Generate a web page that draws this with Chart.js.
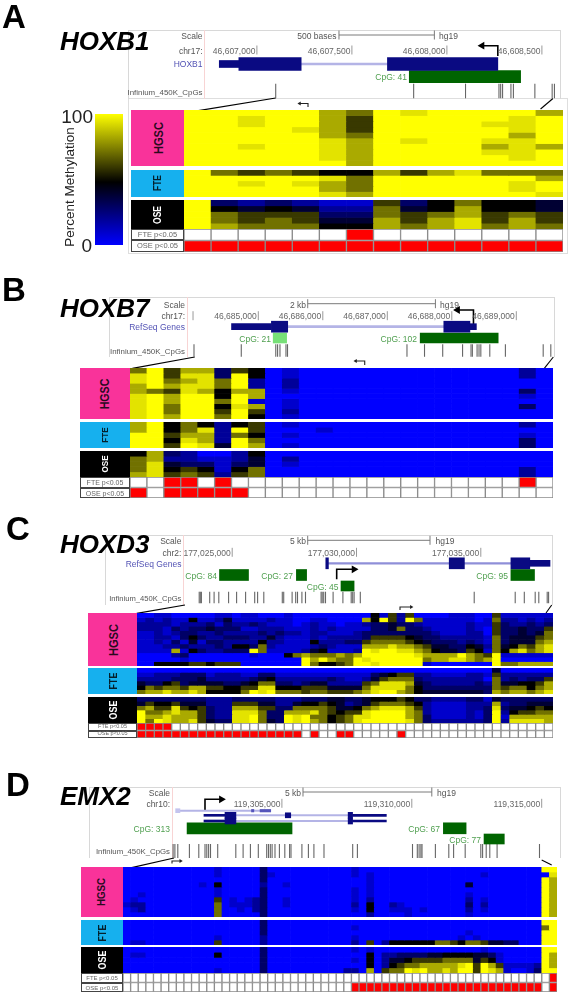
<!DOCTYPE html>
<html lang="en">
<head>
    <meta charset="UTF-8">
    <title>Promoter methylation of HOXB1, HOXB7, HOXD3, EMX2</title>
    <script src="https://cdn.jsdelivr.net/npm/chart.js@4"></script>
    <style>
        html, body { margin: 0; padding: 0; background: #fff; }
        #page { position: relative; width: 569px; height: 994px; overflow: hidden; filter: blur(0.6px); font-family: "Liberation Sans", Arial, sans-serif; }
        #page canvas { position: absolute; }
        .txt { position: absolute; white-space: nowrap; line-height: 1; }
        .box { position: absolute; box-sizing: border-box; }
    </style>
</head>
<body>
    <div id="page"></div>

    <script>
        // Heatmap cells: one character per CpG, 0-9 and a = tenths of percent methylation
        const hgscA = [
            'aaaaa87a9aaaa8', 'aa9aa86aaaaa9a', 'aa9aa86aaaa99a', 'aaaa986aaaaa9a', 'aaaaa87aaaaa8a',
            'aaaaa98a9aa99a', 'aa9aa98aaaa898', 'aaaaa98aaaa99a', 'aaaaa98aaaaa9a', 'aaaaaa8aaaaaaa'
        ];
        const fteA = ['a7676558689777', 'aaaaa97aaaaaa8', 'aa9a987aaaaa9a', 'aaaaa87aaaaa9a', 'aaaaa98aaaaaa9'];
        const oseA = ['a3232116357554', 'a5454227458554', 'a7666337678676', 'a7676448689686', 'a8777558789787'];
        const sigA = ['00000010000000', '11111111111111'];

        const hgscB = [
            '7a688365 01000000 000000020', '9a6993a5 01000000 000000020', '9a7897a2 02000000 000000000',
            '8a8997a2 02000000 000000000', '87698588 01000000 000000030', '9a8aa5a8 00000000 000000010',
            '9a8aa7a1 01000000 000000000', '9a7aa598 01000000 000000030', '9a7aa6a6 02000000 000000000',
            '9a8aa7a5 01000000 000000000'
        ];
        const fteB = [
            '8a575256 01000000 000000020', '8a5792a6 00010000 000000000', 'aa688275 01000000 000000010',
            'aa5982a7 00000000 000000030', 'aa6a94a8 01000000 000000030'
        ];
        const oseB = [
            '58320025 00000000 000000000', '78221124 02000000 000000000', '79433134 01000000 000000000',
            '79565157 00000000 000000020', '89676267 00000000 000000020'
        ];
        const sigB = ['00110100 00000000 000000010', '10111110 00000000 000000000'];

        const hgscC = [
            '00110000 01101100 01000000 00051626 00001110 06111111',
            '12121151 12411112 11001100 0085a62a 71111110 17221212',
            '22221222 31322321 11012110 11233433 21111121 16322323',
            '22213233 43331122 21112121 11133473 32111121 06334336',
            '11212332 23222232 32212211 12333333 33211122 06334347',
            '11221353 22333224 21112122 22366665 43322222 17344467',
            '11213141 33222252 21115222 33677776 54333232 17344478',
            '11122322 23255372 11112321 11888988 76443354 27457689',
            '11118153 22333a71 11124511 12a9aa99 87544365 17589789',
            '00002300 00000100 05787778 78aaaaaa 98888a87 6a111111',
            '00000100 00000000 000a8a87 7a9aaaaa a7889987 8a000000',
            '00555566 56660000 000a7556 7aa9aaaa a1000000 0a778888'
        ];
        const fteC = [
            '00000000 00000000 00000000 00000000 00000000 04000000',
            '11222333 12221133 11111111 11134566 22111122 16222222',
            '22223334 22222345 22222232 11246777 32222222 07232336',
            '43356344 44334577 33234422 22679998 43222223 27445568',
            '57677688 66556699 55566644 44799997 53333333 37677578',
            '78898898 55557a9a 77767766 6789aa87 54444444 38788789'
        ];
        const oseC = [
            '33333333 22233333 22233344 33455565 33222233 14333333',
            '46556444 22266644 22455654 23467776 52111122 28233444',
            '78669656 32288866 33777764 45789998 62111122 39344565',
            'a7789886 32299973 38889765 669aaaa8 72111121 3a256677',
            'a8898886 32299a73 3a9a7756 799aaaa8 73111121 3a188888',
            'a7a98896 43399a74 3a9a8756 79aaaaa9 73222222 3a299998'
        ];
        const sigC = [
            '11110000 00000000 00000000 00000000 00000000 00000000',
            '11111111 11111111 11101001 10000010 00000000 00000000'
        ];

        const hgscD = [
            '00000000 00001000 00300000 00000010 00000000 00000000 0000000a a',
            '00000000 00001000 00310000 00000010 10000000 00000001 00000000 9',
            '00000000 00000000 00300000 00000000 10000000 00000000 0000000a 8',
            '00000000 00105000 00200100 00000000 10000000 00000400 0000000a 8',
            '00000000 00001000 00300000 00000010 10000000 00000000 0000000a 8',
            '00100000 00001000 00300000 00000010 10000000 00000100 0000000a 8',
            '01000000 00006010 12300100 00000010 20000000 00000201 0000000a 8',
            '12200000 00007011 12300100 00000020 50021000 00000302 0000000a 8',
            '01200000 00007001 02300000 00000010 50011101 00000201 0000000a 8',
            '00000000 00007000 00300000 00000000 20000100 00000100 0000000a 8'
        ];
        const fteD = [
            '00000000 00000000 00300000 00000000 00000000 00000000 0000000a a',
            '00000000 00000000 00300000 00000010 00000000 00000000 00000007 a',
            '00000000 00000000 00300000 00000000 00000000 00000100 0000000a a',
            '00000000 00001000 00200000 00000010 00000000 00001010 0000000a a',
            '01100000 00006000 00200000 00000020 60255555 57765776 4433000a a'
        ];
        const oseD = [
            '00000000 00000000 00300000 00000010 10000000 00000001 0000000a a',
            '01100000 00005000 00300000 00000000 50223333 44555544 3100000a 8',
            '00000000 00000000 00300000 00000010 50244566 66777746 5100000a 8',
            '00000000 00000000 00300000 00000000 50256778 88889a6a 8611112a 8',
            '00000000 00001000 00300000 00000220 80677a9a 8898aa6a 9810013a a'
        ];
        const sigD = [
            '00000000 00000000 00000000 00000000 00000000 00000000 00000000 1',
            '00000000 00000000 00000000 00000011 11111111 11111111 11111110 1'
        ];

        // Browser tracks: base pairs counted from the first labelled coordinate of each panel
        const tickValuesA = [0, 500, 1000, 1500];
        const tickLabelsA = ['46,607,000', '46,607,500', '46,608,000', '46,608,500'];
        const exonThinA = [[-198, -95]];
        const exonThickA = [[-95, 233], [687, 1268]];
        const intronA = [[233, 687]];
        const cpgIslandsA = [[802, 1388]];
        const probesA = [99, 825, 1098, 1274, 1283, 1293, 1337, 1350, 1463, 1554, 1566];
        const rulerA = [432, 934];

        const tickValuesB = [0, 1000, 2000, 3000, 4000];
        const tickLabelsB = ['46,685,000', '46,686,000', '46,687,000', '46,688,000', '46,689,000'];
        const exonThinB = [[-415, 203], [3281, 3381]];
        const exonThickB = [[203, 456], [2876, 3281]];
        const intronB = [[456, 2876]];
        const cpgIslandsB = [[2510, 3719]];
        const cpgLightB = [[231, 439]];
        const probesB = [-997, -264, 271, 299, 336, 429, 453, 2305, 2577, 2859, 3167, 3298, 3319, 3392, 3422, 3450, 3589, 3831, 4417, 4535];
        const rulerB = [766, 2746];

        const tickValuesC = [0, 5000, 10000];
        const tickLabelsC = ['177,025,000', '177,030,000', '177,035,000'];
        const exonThinC = [[11971, 12784]];
        const exonThickC = [[3765, 3870], [8729, 9340], [11211, 11971]];
        const intronC = [[3870, 11211]];
        const cpgRow1C = [[-511, 656], [2582, 2993], [11211, 12160]];
        const cpgRow2C = [[4376, 4903]];
        const probesC = [-1327, -1283, -1239, -905, -728, -539, -145, 177, 539, 905, 1022, 1271, 2015, 2072, 2410, 2554, 2627, 2804, 2948, 3576, 3620, 3681, 3753, 4059, 4453, 4787, 4847, 4904, 5153, 9735, 11384, 11750, 12188, 12333, 12671, 12727];
        const rulerC = [3037, 7957];

        const tickValuesD = [0, 5000, 10000];
        const tickLabelsD = ['119,305,000', '119,310,000', '119,315,000'];
        const paleBoxD = [[-4090, -3925]];
        const paleLineD = [[-3925, -840]];
        const paleExonsD = [[-1170, -1080], [-840, -430]];
        const exonLeadD = [[-3000, -2190]];
        const exonThickD = [[-2190, -1770], [2550, 2720]];
        const exonDotD = [[130, 340]];
        const exonTailD = [[2720, 4020]];
        const intronD = [[-1770, 2550]];
        const cpgRow1D = [[-3650, 390], [6215, 7090]];
        const cpgRow2D = [[7780, 8560]];
        const probesD = [-4188, -4119, -4007, -3560, -3199, -2960, -2891, -2821, -2748, -2471, -1774, -1493, -1212, -908, -585, -516, -446, -377, -266, -96, 112, 296, 350, 770, 1020, 1232, 1620, 2725, 2906, 5027, 5212, 5281, 5350, 5393, 5908, 6424, 6609, 7055, 7656, 7725, 7864, 8002, 8283, 9915];
        const rulerD = [812, 5770];

        const colorStops = [[0, '#ffff00'], [0.52, '#000000'], [1, '#0000ff']];

        const page = document.getElementById('page');
        Chart.defaults.animation = false;
        Chart.defaults.responsive = false;
        Chart.defaults.plugins.legend.display = false;
        Chart.defaults.plugins.tooltip.enabled = false;

        function addCanvas(left, top, width, height) {
            const c = document.createElement('canvas');
            c.width = width;
            c.height = height;
            c.style.left = left + 'px';
            c.style.top = top + 'px';
            c.style.width = width + 'px';
            c.style.height = height + 'px';
            page.appendChild(c);
            return c;
        }

        function addText(str, x, y, o = {}) {
            const d = document.createElement('div');
            d.className = 'txt';
            d.textContent = str;
            d.style.left = x + 'px';
            d.style.top = y + 'px';
            d.style.fontSize = (o.size || 8.5) + 'px';
            d.style.color = o.color || '#555';
            if (o.bold) d.style.fontWeight = 'bold';
            if (o.italic) d.style.fontStyle = 'italic';
            const shift = o.align === 'right' ? '-100%' : o.align === 'center' ? '-50%' : '0';
            d.style.transform = `translate(${shift},-50%)` + (o.rot ? ` rotate(${o.rot}deg)` : '') + (o.sx ? ` scaleX(${o.sx})` : '');
            page.appendChild(d);
        }

        function addBox(x0, y0, x1, y1, style) {
            const d = document.createElement('div');
            d.className = 'box';
            d.style.left = x0 + 'px';
            d.style.top = y0 + 'px';
            d.style.width = (x1 - x0) + 'px';
            d.style.height = (y1 - y0) + 'px';
            Object.assign(d.style, style);
            page.appendChild(d);
        }

        function decode(str) {
            return str.replace(/ /g, '').split('').map(c => parseInt(c, 11) * 10);
        }

        // blue at 0, black at 50, full yellow from 95
        function methylColor(v) {
            if (v >= 50) {
                const k = Math.min(255, Math.round((v - 50) / 45 * 255));
                return `rgb(${k},${k},0)`;
            }
            return `rgb(0,0,${Math.round((50 - v) / 50 * 255)})`;
        }

        // stacked bars, one dataset per row, one bar per CpG
        function cellChart(x0, x1, y0, y1, rows, colorFn, border) {
            const left = Math.round(x0), top = Math.round(y0);
            const c = addCanvas(left, top, Math.round(x1) - left, Math.round(y1) - top);
            const parsed = rows.map(decode);
            new Chart(c, {
                type: 'bar',
                data: {
                    labels: parsed[0].map((_, i) => i + 1),
                    datasets: parsed.map(r => ({
                        data: r.map(() => 1),
                        backgroundColor: r.map(colorFn),
                        borderColor: border || 'transparent',
                        borderWidth: border ? 1 : 0,
                        borderSkipped: false,
                        barPercentage: 1,
                        categoryPercentage: 1
                    }))
                },
                options: {
                    scales: {
                        x: { display: false, stacked: true },
                        y: { display: false, stacked: true, reverse: true, min: 0, max: rows.length }
                    }
                }
            });
        }

        function heatGroup(lay, hgsc, fte, ose, sig) {
            const groups = [
                ['HGSC', lay.hgsc, hgsc, '#f9339a', '#2a0a1e', lay.hgscSize],
                ['FTE', lay.fte, fte, '#16b0ee', '#04202c', lay.fteSize],
                ['OSE', lay.ose, ose, '#000', '#fff', lay.fteSize]
            ];
            groups.forEach(g => {
                addBox(lay.labelX[0], g[1][0], lay.labelX[1], g[1][1], { background: g[3] });
                addText(g[0], (lay.labelX[0] + lay.labelX[1]) / 2, (g[1][0] + g[1][1]) / 2, { align: 'center', rot: -90, bold: true, color: g[4], size: g[5], sx: 0.85 });
                cellChart(lay.heatX[0], lay.heatX[1], g[1][0], g[1][1], g[2], methylColor);
            });
            cellChart(lay.heatX[0], lay.heatX[1], lay.sig[0], lay.sig[2], sig, v => v ? '#ff0000' : '#ffffff', '#8a8a8a');
            ['FTE p<0.05', 'OSE p<0.05'].forEach((t, i) => {
                addBox(lay.labelX[0], lay.sig[i], lay.labelX[1], lay.sig[i + 1], { background: '#fff', border: '1px solid #444' });
                addText(t, (lay.labelX[0] + lay.labelX[1]) / 2, (lay.sig[i] + lay.sig[i + 1]) / 2, { align: 'center', size: lay.sigSize, color: '#666' });
            });
        }

        function spans(list, y, thick, color) {
            return { type: 'bar', indexAxis: 'y', grouped: false, data: list.map(s => ({ x: s, y: y })), barThickness: thick, backgroundColor: color };
        }

        function marks(xs, y, half, color, width) {
            return {
                type: 'scatter', data: xs.map(v => ({ x: v, y: y })), pointStyle: 'line', rotation: 90, pointRadius: half,
                pointBorderColor: color, pointBorderWidth: width, showLine: false
            };
        }

        function path(points, color, width, headAngle, headSize) {
            const n = points.length;
            return {
                type: 'scatter', data: points.map(p => ({ x: p[0], y: p[1] })), showLine: true, borderColor: color, borderWidth: width,
                pointStyle: 'triangle', pointBackgroundColor: color, pointBorderWidth: 0,
                pointRadius: points.map((_, i) => (i === n - 1 && headSize ? headSize : 0)),
                pointRotation: points.map(() => headAngle || 0)
            };
        }

        function trackChart(top, bottom, pxPerBp, zeroPx, datasets) {
            const c = addCanvas(0, top, 569, bottom - top);
            return new Chart(c, {
                type: 'bar',
                data: { datasets: datasets },
                options: {
                    layout: { autoPadding: false }, // the point marks would otherwise shrink the plot area
                    scales: {
                        x: { type: 'linear', display: false, offset: false, bounds: 'data', min: -zeroPx / pxPerBp, max: (569 - zeroPx) / pxPerBp },
                        y: { type: 'linear', display: false, offset: false, bounds: 'data', reverse: true, min: top, max: bottom }
                    }
                }
            });
        }

        function trackFrame(lay, rowTexts) {
            addBox(lay.box[0], lay.box[1], lay.box[2], lay.box[3], { border: '1px solid #d8d8d8', borderBottom: 'none' });
            addBox(lay.redX, lay.box[1], lay.redX + 1, lay.box[3], { background: '#f8d4d4' });
            rowTexts.forEach(t => addText(t[0], t[2] === undefined ? lay.labelRight : t[2], t[1], { align: 'right', color: t[3] || '#555', size: t[4] }));
        }

        function tickTexts(chart, values, labels, y) {
            values.forEach((v, i) => addText(labels[i], chart.scales.x.getPixelForValue(v) - 1.5, y, { align: 'right', color: '#666' }));
        }

        function panelHead(letter, lx, ly, name, ny) {
            addText(letter, lx, ly, { size: 33, bold: true, color: '#000' });
            addText(name, 60, ny, { size: 26, bold: true, italic: true, color: '#000' });
        }

        const navy = '#0a0a82', pale = '#b4b4e6', green = '#006400', lightGreen = '#78e078', gray = '#7a7a7a', cpgText = '#4f9f4f', blueText = '#5252b4';

        // ---- A ----
        addBox(128, 98, 568, 254, { border: '1px solid #dedede' });
        trackFrame({ box: [127.7, 30, 561, 99], redX: 204, labelRight: 202.5 }, [
            ['Scale', 36], ['chr17:', 50.5], ['HOXB1', 64, undefined, blueText], ['CpG: 41', 77, 407, cpgText], ['Infinium_450K_CpGs', 92.5, 202.5, '#555', 7.9]
        ]);
        addText('500 bases', 336.5, 36, { align: 'right' });
        addText('hg19', 439, 36);
        const chartA = trackChart(28, 114, 0.19, 256.9, [
            spans(exonThinA, 64, 7, navy),
            spans(exonThickA, 64, 13, navy),
            spans(intronA, 64, 2, pale),
            spans(cpgIslandsA, 76.7, 12, green),
            marks(tickValuesA, 50, 4.5, '#999', 1),
            marks(rulerA, 35, 4.5, gray, 1),
            path(rulerA.map(v => [v, 35]), gray, 1),
            marks(probesA, 91, 7.3, '#666', 1.1),
            path([[1268, 56], [1268, 45.7], [1185, 45.7]], '#000', 1.6, -90, 4.5),
            path([[99, 98], [-340, 111.7]], '#000', 1.2),
            path([[1558, 98.5], [1493, 109]], '#000', 1.1),
            path([[269, 107], [269, 103.5], [225, 103.5]], '#222', 1.1, -90, 2.2)
        ]);
        tickTexts(chartA, tickValuesA, tickLabelsA, 50.5);
        heatGroup({ labelX: [131, 184], heatX: [184, 563], hgsc: [110, 166], fte: [169.5, 197], ose: [200, 229], sig: [229, 240, 252], hgscSize: 13, fteSize: 10, sigSize: 7.5 }, hgscA, fteA, oseA, sigA);
        panelHead('A', 2, 16, 'HOXB1', 41);

        // colour key
        const keyCanvas = addCanvas(95, 114, 28, 131);
        new Chart(keyCanvas, {
            type: 'bar',
            data: {
                labels: ['Percent Methylation'],
                datasets: [{
                    data: [[0, 100]],
                    barPercentage: 1,
                    categoryPercentage: 1,
                    backgroundColor: ctx => {
                        const g = ctx.chart.ctx.createLinearGradient(0, 0, 0, 131);
                        colorStops.forEach(s => g.addColorStop(s[0], s[1]));
                        return g;
                    }
                }]
            },
            options: { scales: { x: { display: false }, y: { display: false, min: 0, max: 100 } } }
        });
        addText('100', 93, 116, { align: 'right', size: 19, color: '#222' });
        addText('0', 92, 245, { align: 'right', size: 19, color: '#222' });
        addText('Percent Methylation', 70, 187, { align: 'center', rot: -90, size: 13.5, color: '#222' });

        // ---- B ----
        trackFrame({ box: [109, 297, 554.5, 357], redX: 187, labelRight: 185 }, [
            ['Scale', 304.5], ['chr17:', 316], ['RefSeq Genes', 327, undefined, blueText], ['CpG: 21', 338.5, 271, cpgText], ['CpG: 102', 338.5, 417, cpgText], ['Infinium_450K_CpGs', 352, 185, '#555', 7.9]
        ]);
        addText('2 kb', 306, 304.5, { align: 'right' });
        addText('hg19', 440, 304.5);
        const chartB = trackChart(295, 370, 0.0645, 258.3, [
            spans(exonThinB, 326.7, 6, navy),
            spans(exonThickB, 326.7, 11, navy),
            spans(intronB, 326.7, 2, pale),
            spans(cpgIslandsB, 338, 10, green),
            spans(cpgLightB, 338, 10, lightGreen),
            marks(tickValuesB.concat([-1012]), 315.7, 4.5, '#999', 1),
            marks(rulerB, 303.7, 4.5, gray, 1),
            path(rulerB.map(v => [v, 303.7]), gray, 1),
            marks(probesB, 350.5, 6.3, '#666', 1.1),
            path([[3336, 325], [3336, 310], [3090, 310]], '#000', 1.6, -90, 4.5),
            path([[-985, 357], [-1952, 368.3]], '#000', 1.2),
            path([[4574, 357], [4434, 368.3]], '#000', 1.1),
            path([[1650, 365], [1650, 361], [1510, 361]], '#222', 1.1, -90, 2.2)
        ]);
        tickTexts(chartB, tickValuesB, tickLabelsB, 316);
        heatGroup({ labelX: [80, 130], heatX: [130, 553], hgsc: [368, 419], fte: [422, 448], ose: [451, 477], sig: [477, 487.5, 498], hgscSize: 12.5, fteSize: 9.5, sigSize: 7 }, hgscB, fteB, oseB, sigB);
        panelHead('B', 2, 289, 'HOXB7', 308);

        // ---- C ----
        trackFrame({ box: [105, 535, 552.5, 605], redX: 183, labelRight: 181.4 }, [
            ['Scale', 541], ['chr2:', 552.5], ['RefSeq Genes', 563.5, undefined, blueText], ['CpG: 84', 575.5, 217, cpgText], ['CpG: 27', 575.5, 293, cpgText], ['CpG: 95', 575.5, 508, cpgText], ['CpG: 45', 586.5, 338.5, cpgText], ['Infinium_450K_CpGs', 598.5, 181.4, '#555', 7.6]
        ]);
        addText('5 kb', 306, 541, { align: 'right' });
        addText('hg19', 435.5, 541);
        const chartC = trackChart(533, 615, 0.02486, 232.2, [
            spans(exonThinC, 563.3, 6, navy),
            spans(exonThickC, 563.3, 11, navy),
            spans(intronC, 563.3, 1.5, '#8f8fd8'),
            spans(cpgRow1C, 575, 11, green),
            spans(cpgRow2C, 586, 10, green),
            marks(tickValuesC, 552.3, 4.5, '#999', 1),
            marks(rulerC, 540.3, 4.5, gray, 1),
            path(rulerC.map(v => [v, 540.3]), gray, 1),
            marks(probesC, 597.5, 5.8, '#666', 1.1),
            path([[4203, 579.3], [4203, 569.3], [4900, 569.3]], '#000', 1.6, 90, 4.5),
            path([[-1899, 605], [-3841, 613.3]], '#000', 1.2),
            path([[12852, 605], [12622, 613]], '#000', 1.1),
            path([[6750, 610], [6750, 607], [7200, 607]], '#222', 1.1, 90, 2.2)
        ]);
        tickTexts(chartC, tickValuesC, tickLabelsC, 552.5);
        heatGroup({ labelX: [88, 137], heatX: [137, 553], hgsc: [613, 666], fte: [668, 694], ose: [697, 723], sig: [723, 730.5, 738], hgscSize: 13, fteSize: 10.5, sigSize: 5.5 }, hgscC, fteC, oseC, sigC);
        panelHead('C', 6, 528, 'HOXD3', 544);

        // ---- D ----
        trackFrame({ box: [89, 787, 561, 858], redX: 172, labelRight: 170 }, [
            ['Scale', 792.5], ['chr10:', 803.5], ['CpG: 313', 828.5, 170, cpgText], ['CpG: 67', 828.5, 440, cpgText], ['CpG: 77', 839.5, 481, cpgText], ['Infinium_450K_CpGs', 851.5, 170, '#555', 7.8]
        ]);
        addText('5 kb', 301, 792.5, { align: 'right' });
        addText('hg19', 437, 792.5);
        const chartD = trackChart(785, 870, 0.02598, 281.9, [
            spans(paleBoxD, 810.7, 4, '#c4c4ee'),
            spans(paleExonsD, 810.7, 2.5, '#5555bb'),
            spans(paleLineD, 810.7, 1.2, pale),
            spans(exonThickD, 815.3, 6, navy),
            spans(exonThickD, 821, 6, navy),
            spans(exonDotD, 815.3, 5, navy),
            spans(exonTailD, 815.3, 2, navy),
            spans(exonTailD, 821, 2, navy),
            spans(exonLeadD, 815.3, 2, navy),
            spans(exonLeadD, 821, 2, navy),
            spans(intronD, 815.3, 1.2, pale),
            spans(intronD, 821, 1.2, pale),
            spans(cpgRow1D, 828.3, 11, green),
            spans(cpgRow2D, 839, 10, green),
            marks(tickValuesD, 803.3, 4.5, '#999', 1),
            marks(rulerD, 792, 4.5, gray, 1),
            path(rulerD.map(v => [v, 792]), gray, 1),
            marks(probesD, 851, 7, '#666', 1.1),
            path([[-2960, 811], [-2960, 799.3], [-2330, 799.3]], '#000', 1.6, 90, 4.5),
            path([[-4153, 858], [-5912, 868.3]], '#000', 1.2),
            path([[10000, 860], [10385, 865]], '#000', 1.1),
            path([[-4230, 863.5], [-4230, 861], [-3900, 861]], '#222', 1.1, 90, 2.2)
        ]);
        tickTexts(chartD, tickValuesD, tickLabelsD, 803.5);
        heatGroup({ labelX: [81, 123], heatX: [123, 557], hgsc: [867, 917], fte: [920, 945], ose: [947, 973], sig: [973, 983, 992], hgscSize: 11.5, fteSize: 10.5, sigSize: 6 }, hgscD, fteD, oseD, sigD);
        panelHead('D', 6, 784, 'EMX2', 796);
    </script>
</body>
</html>
